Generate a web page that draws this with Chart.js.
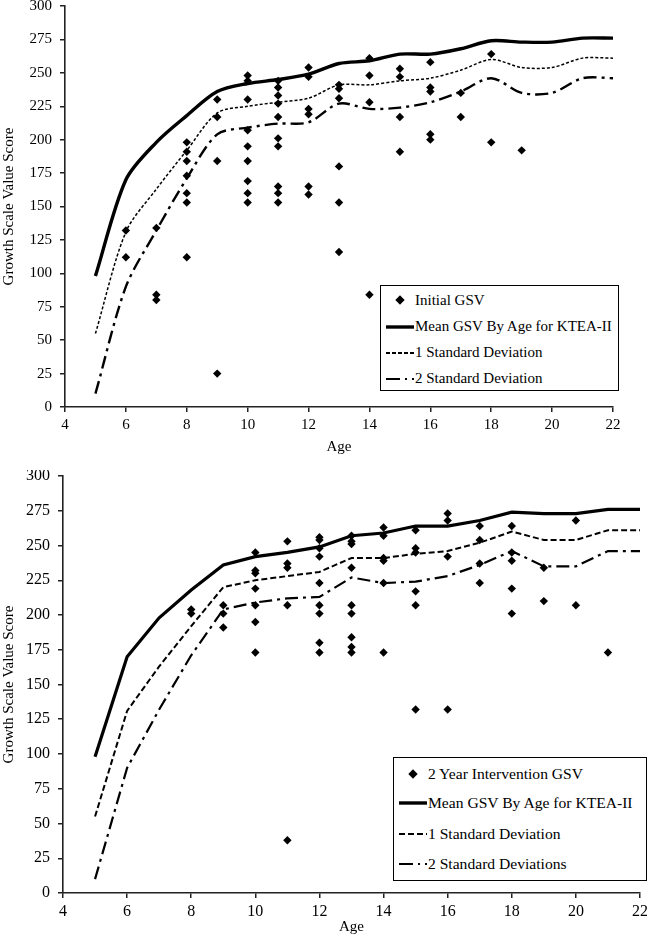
<!DOCTYPE html>
<html><head><meta charset="utf-8">
<script src="https://cdn.jsdelivr.net/npm/chart.js@4.4.1/dist/chart.umd.min.js"></script>
<style>
html,body{margin:0;padding:0;background:#fff;}
body{width:647px;height:940px;position:relative;overflow:hidden;font-family:"Liberation Serif","Times New Roman",serif;color:#000;}
.panel{position:absolute;left:0;width:647px;height:470px;}
.legend{position:absolute;border:1px solid #000;background:#fff;box-sizing:border-box;}
.row{position:absolute;left:0;display:flex;align-items:center;white-space:nowrap;height:20px;margin-top:-10px;}
.row svg{display:block;flex:none;}
</style>
</head><body>
<div class="panel" style="top:0"><canvas id="c1" width="647" height="470"></canvas></div>
<div class="panel" style="top:470px"><canvas id="c2" width="647" height="470"></canvas></div>
<div class="legend" id="lg1" style="left:380px;top:285px;width:239px;height:106px;font-size:15px;"></div>
<div class="legend" id="lg2" style="left:393px;top:757px;width:254px;height:124px;font-size:15.6px;"></div>
<script>
// ---- data ----
const ages = [5,6,7,8,9,10,11,12,13,14,15,16,17,18,19,20,21,22];
const meanGSV = [98,170,198,218,236,242,245,249,257,259,264,264,268,274,273,273,276,276];
const sd1GSV  = [55,131,163,192,220,225,228,231,241,241,244,246,252,260,254,254,261,261];
const sd2GSV  = [10,90,132,171,204,209,212,213,227,223,224,228,236,246,235,235,246,246];

const initialAge = [6,6, 7,7,7, 8,8,8,8,8,8,8, 9,9,9,9, 10,10,10,10,10,10,10,10,10,
  11,11,11,11,11,11,11,11,11,11, 12,12,12,12,12,12, 13,13,13,13,13,13, 14,14,14,14,
  15,15,15,15, 16,16,16,16,16, 17,17, 18,18, 19];
const initialGSV = [132,112, 134,84,80, 198,191,184,173,160,153,112, 230,217,184,25,
  248,244,230,207,195,184,169,160,153, 244,239,233,227,217,201,195,165,160,153,
  254,247,223,219,165,159, 241,238,231,180,153,116, 261,248,228,84,
  253,247,217,191, 258,239,236,204,200, 235,217, 264,198, 192];

const interventionAge = [8,8, 9,9,9, 10,10,10,10,10,10,10, 11,11,11,11,11,
  12,12,12,12,12,12,12,12,12, 13,13,13,13,13,13,13,13,13, 14,14,14,14,14,14,
  15,15,15,15,15,15, 16,16,16,16, 17,17,17,17, 18,18,18,18,18, 19,19, 20,20, 21];
const interventionGSV = [204,201, 207,201,191, 245,232,230,219,207,195,173, 253,237,234,207,38,
  256,254,248,242,223,207,201,180,173, 257,253,251,234,207,201,184,177,173, 263,257,241,239,223,173,
  261,248,245,217,207,132, 273,268,242,132, 264,254,237,223, 264,245,239,219,201, 234,210, 268,207, 173];

const xTicks = [4,6,8,10,12,14,16,18,20,22];
const yTicks = [0,25,50,75,100,125,150,175,200,225,250,275,300];

// ---- helpers ----
const pts = (xs, ys) => xs.map((x,i)=>({x, y: ys[i]}));
const SERIF = '"Liberation Serif","Times New Roman",serif';

function makeChart(id, o){
  const datasets = [
    {label:o.scatterLabel, data: pts(o.sx, o.sy), showLine:false, pointStyle:'rectRot',
     pointRadius:4.2, backgroundColor:'#000', borderColor:'#000', borderWidth:0},
    {label:'Mean GSV By Age for KTEA-II', data: pts(ages, meanGSV), showLine:true, pointRadius:0,
     borderColor:'#000', borderWidth:o.meanW, tension:o.tension, fill:false},
    {label:'1 Standard Deviation', data: pts(ages, sd1GSV), showLine:true, pointRadius:0,
     borderColor:'#000', borderWidth:o.sd1W, borderDash:o.sd1Dash, tension:o.tension, fill:false},
    {label:o.sd2Label, data: pts(ages, sd2GSV), showLine:true, pointRadius:0,
     borderColor:'#000', borderWidth:o.sd2W, borderDash:[13,5,3,5], tension:o.tension, fill:false}
  ];
  return new Chart(document.getElementById(id), {
    type:'scatter',
    data:{datasets},
    options:{
      responsive:false, animation:false, devicePixelRatio:1,
      layout:{padding:{top:0,left:0,right:o.padRight,bottom:0}},
      plugins:{legend:{display:false}, tooltip:{enabled:false}},
      scales:{
        x:{type:'linear', min:4, max:22,
          afterBuildTicks:(s)=>{s.ticks = xTicks.map(v=>({value:v}));},
          afterFit:(s)=>{s.height=o.xH; s.paddingLeft=0; s.paddingRight=0;},
          grid:{drawOnChartArea:false, drawTicks:true, tickLength:5, color:'#222', lineWidth:1.5},
          border:{display:true, color:'#222', width:1.6},
          ticks:{color:'#000', font:{family:SERIF, size:o.tickSize}, padding:4, maxRotation:0},
          title:{display:true, text:'Age', color:'#000', font:{family:SERIF, size:15}, padding:{top:0,bottom:o.xTitlePad}}
        },
        y:{type:'linear', min:0, max:300,
          afterBuildTicks:(s)=>{s.ticks = yTicks.map(v=>({value:v}));},
          afterFit:(s)=>{s.width=o.yW; s.paddingTop=o.top; s.paddingBottom=0;},
          grid:{drawOnChartArea:false, drawTicks:true, tickLength:5, color:'#222', lineWidth:1.5},
          border:{display:true, color:'#222', width:1.6},
          ticks:{color:'#000', font:{family:SERIF, size:o.tickSize}, padding:8},
          title:{display:true, text:'Growth Scale Value Score', color:'#000', font:{family:SERIF, size:15}, padding:{top:0,bottom:0}}
        }
      }
    }
  });
}

makeChart('c1', {scatterLabel:'Initial GSV', sx:initialAge, sy:initialGSV, sd2Label:'2 Standard Deviation',
  meanW:3.4, sd1W:1.5, sd1Dash:[3,2], sd2W:2.4, tension:0.3, padRight:34, xH:63, yW:65, top:6,
  tickSize:15, xTitlePad:14});
makeChart('c2', {scatterLabel:'2 Year Intervention GSV', sx:interventionAge, sy:interventionGSV, sd2Label:'2 Standard Deviations',
  meanW:3.2, sd1W:2, sd1Dash:[6,3], sd2W:2.2, tension:0, padRight:7, xH:47, yW:63, top:6,
  tickSize:16, xTitlePad:4});

// ---- legends (HTML text) ----
function sample(kind, w, dash){
  if(kind==='diamond') return `<svg width="${w}" height="12"><rect x="${w/2-3.3}" y="2.7" width="6.6" height="6.6" fill="#000" transform="rotate(45 ${w/2} 6)"/></svg>`;
  const sw = kind==='mean'?3.4:2;
  return `<svg width="${w}" height="12"><line x1="0" y1="6" x2="${w}" y2="6" stroke="#000" stroke-width="${sw}" ${dash?`stroke-dasharray="${dash}"`:''}/></svg>`;
}
function buildLegend(id, items, rows, left, w){
  const el = document.getElementById(id);
  items.forEach((it,i)=>{
    const r = document.createElement('div');
    r.className='row';
    r.style.top = rows[i]+'px';
    r.style.left = left+'px';
    r.innerHTML = sample(it.kind, w, it.dash) + `<span style="margin-left:1px">${it.text}</span>`;
    el.appendChild(r);
  });
}
buildLegend('lg1', [
  {kind:'diamond', text:'Initial GSV'},
  {kind:'mean', text:'Mean GSV By Age for KTEA-II'},
  {kind:'sd1', dash:'4 2', text:'1 Standard Deviation'},
  {kind:'sd2', dash:'14 5 2 5', text:'2 Standard Deviation'}
], [14, 40.5, 66.5, 92.5], 5, 28);
buildLegend('lg2', [
  {kind:'diamond', text:'2 Year Intervention GSV'},
  {kind:'mean', text:'Mean GSV By Age for KTEA-II'},
  {kind:'sd1', dash:'6 3', text:'1 Standard Deviation'},
  {kind:'sd2', dash:'14 5 2 5', text:'2 Standard Deviations'}
], [16, 45, 76, 106], 5, 28);
</script>
</body></html>
